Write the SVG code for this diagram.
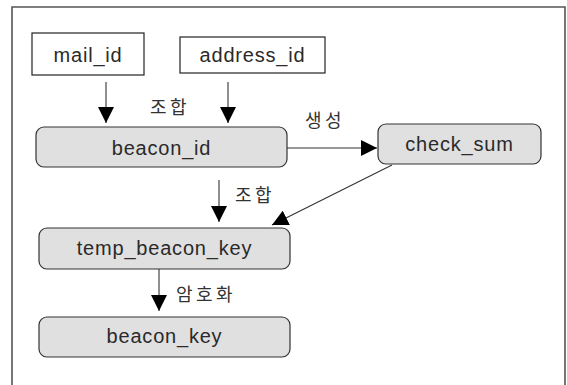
<svg xmlns="http://www.w3.org/2000/svg" width="567" height="385" viewBox="0 0 567 385">
<style>
.box{fill:#fff;stroke:#222;stroke-width:1.2}
.rbox{fill:#e0e0e0;stroke:#333;stroke-width:1.2}
.lbl{font-family:"Liberation Sans",Arial,sans-serif;font-size:20px;letter-spacing:0.8px;fill:#2a2a2a;text-anchor:middle}
.kr{font-family:"Noto Sans CJK KR","Noto Sans",sans-serif;font-size:18px;letter-spacing:3.5px;fill:#333}
.ln{stroke:#333;stroke-width:1.1;fill:none}
</style>
<defs>
<marker id="ah" viewBox="0 0 16 16" refX="16" refY="8" markerWidth="16" markerHeight="16" markerUnits="userSpaceOnUse" orient="auto">
<path d="M0,0 L16,8 L0,16 Z" fill="#000"/>
</marker>
</defs>
<rect width="567" height="385" fill="#fff"/>
<path d="M12,385 V7 H565 V385" fill="none" stroke="#555" stroke-width="1.6"/>
<g id="connectors">
<line class="ln" x1="106" y1="82" x2="106" y2="123" marker-end="url(#ah)"/>
<line class="ln" x1="228" y1="82" x2="228" y2="123" marker-end="url(#ah)"/>
<line class="ln" x1="287" y1="148" x2="377" y2="148" marker-end="url(#ah)"/>
<line class="ln" x1="219" y1="180" x2="219" y2="222" marker-end="url(#ah)"/>
<line class="ln" x1="392" y1="165" x2="272" y2="225" marker-end="url(#ah)"/>
<line class="ln" x1="159" y1="269" x2="159" y2="311" marker-end="url(#ah)"/>
<text class="kr" x="150" y="114">조합</text>
<text class="kr" x="305" y="127">생성</text>
<text class="kr" x="235" y="202">조합</text>
<text class="kr" x="176" y="301">암호화</text>
</g>
<g id="mail_id">
<rect class="box" x="32" y="33" width="112" height="42"/>
<text class="lbl" x="88" y="62">mail_id</text>
</g>
<g id="address_id">
<rect class="box" x="180" y="37" width="145" height="36"/>
<text class="lbl" x="252.5" y="62">address_id</text>
</g>
<g id="beacon_id">
<rect class="rbox" x="36" y="127" width="251" height="40" rx="8"/>
<text class="lbl" x="161.5" y="155">beacon_id</text>
</g>
<g id="check_sum">
<rect class="rbox" x="378" y="124" width="163" height="40" rx="8"/>
<text class="lbl" x="459.5" y="151">check_sum</text>
</g>
<g id="temp_beacon_key">
<rect class="rbox" x="39" y="228" width="251" height="41" rx="8"/>
<text class="lbl" x="164.5" y="255">temp_beacon_key</text>
</g>
<g id="beacon_key">
<rect class="rbox" x="39" y="317" width="251" height="40" rx="8"/>
<text class="lbl" x="164.5" y="343">beacon_key</text>
</g>
</svg>
